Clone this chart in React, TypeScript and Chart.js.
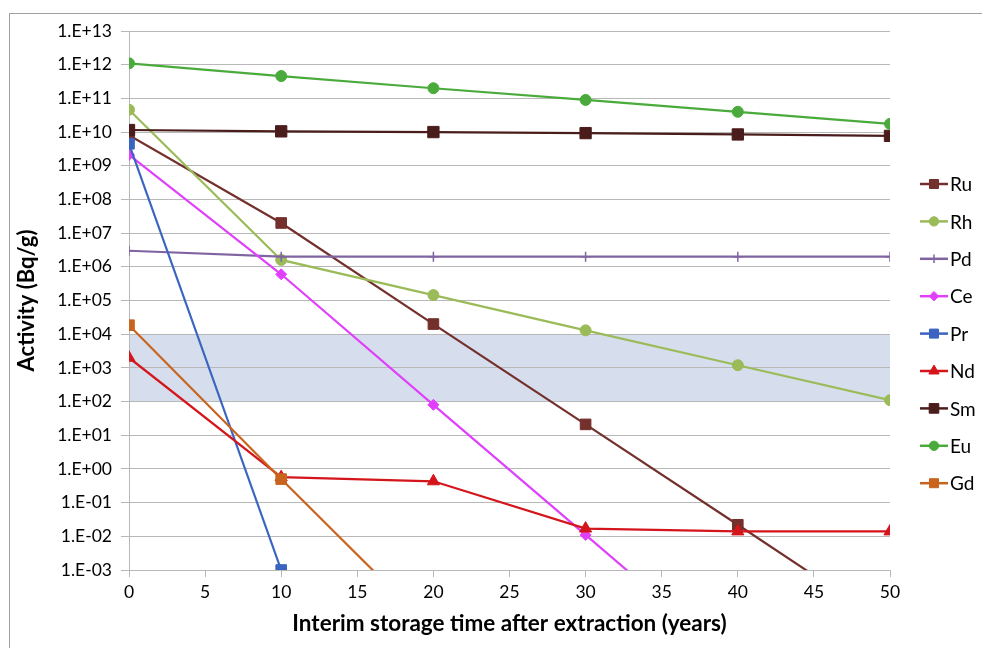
import React, { useEffect, useRef } from "react";
import { Chart, registerables } from "chart.js";
import { drawPoint } from "chart.js/helpers";

Chart.register(...registerables);

const years = [0, 10, 20, 30, 40, 50];
const seriesNames = ["Ru", "Rh", "Pd", "Ce", "Pr", "Nd", "Sm", "Eu", "Gd"];
const ru = [8e9, 2e7, 2e4, 2.1e1, 2.2e-2, 2.2e-5];
const rh = [4.6e10, 1.6e6, 1.45e5, 1.3e4, 1.2e3, 1.1e2];
const pd = [3e6, 2e6, 2e6, 2e6, 2e6, 2e6];
const ce = [2.1e9, 6e5, 8e1, 1.1e-2, 1.5e-6, null];
const pr = [4.5e9, 1e-3, null, null, null, null];
const nd = [2e3, 0.57, 0.43, 1.7e-2, 1.4e-2, 1.4e-2];
const sm = [1.15e10, 1.05e10, 1e10, 9.3e9, 8.5e9, 7.7e9];
const eu = [1.1e12, 4.6e11, 2e11, 9e10, 4e10, 1.75e10];
const gd = [1.85e4, 0.5, 1.6e-5, null, null, null];
const seriesValues = [ru, rh, pd, ce, pr, nd, sm, eu, gd];
const yTickExponents = [-3, -2, -1, 0, 1, 2, 3, 4, 5, 6, 7, 8, 9, 10, 11, 12, 13];
const yTickLabels = ["1.E-03", "1.E-02", "1.E-01", "1.E+00", "1.E+01", "1.E+02", "1.E+03", "1.E+04", "1.E+05", "1.E+06", "1.E+07", "1.E+08", "1.E+09", "1.E+10", "1.E+11", "1.E+12", "1.E+13"];
const bandRange = [1e2, 1e4];

const styles = [
  { color: "#73302c", style: "rect", radius: 7.5 },
  { color: "#9bbb59", style: "circle", radius: 5.5 },
  { color: "#8064a2", style: "cross", radius: 5 },
  { color: "#e040fb", style: "rectRot", radius: 5.5 },
  { color: "#3a64c0", style: "rect", radius: 7.5 },
  { color: "#d4151b", style: "triangle", radius: 7 },
  { color: "#4a1c1c", style: "rect", radius: 8 },
  { color: "#4aab3c", style: "circle", radius: 5.5 },
  { color: "#c8641e", style: "rect", radius: 7.5 },
];

const FONT = "Lato, 'Open Sans', sans-serif";

export default function App() {
  const ref = useRef<HTMLCanvasElement | null>(null);
  useEffect(() => {
    document.body.style.margin = "0";
    const canvas = ref.current!;
    const bandPlugin = {
      id: "band",
      beforeDraw(chart: any) {
        const { ctx, chartArea, scales } = chart;
        const y1 = scales.y.getPixelForValue(bandRange[1]);
        const y0 = scales.y.getPixelForValue(bandRange[0]);
        ctx.save();
        ctx.fillStyle = "rgb(214,222,237)";
        ctx.fillRect(chartArea.left, y1, chartArea.right - chartArea.left, y0 - y1);
        ctx.restore();
      },
    };
    const legendPlugin = {
      id: "customLegend",
      afterDraw(chart: any) {
        const { ctx } = chart;
        ctx.save();
        const x0 = 920, x1 = 948, yStart = 184, step = 37.4;
        seriesNames.forEach((name, i) => {
          const s = styles[i];
          const y = yStart + i * step;
          ctx.strokeStyle = s.color;
          ctx.lineWidth = 2.5;
          ctx.beginPath();
          ctx.moveTo(x0, y);
          ctx.lineTo(x1, y);
          ctx.stroke();
          ctx.fillStyle = s.color;
          ctx.lineWidth = s.style === "cross" ? 1.5 : 1;
          drawPoint(ctx, { pointStyle: s.style, radius: s.radius * 0.85, rotation: 0, borderWidth: ctx.lineWidth }, (x0 + x1) / 2, y);
          ctx.fillStyle = "#000";
          ctx.font = `19px ${FONT}`;
          ctx.textBaseline = "middle";
          ctx.textAlign = "left";
          ctx.fillText(name, x1 + 2, y + 1);
        });
        ctx.restore();
      },
    };
    const chart = new Chart(canvas, {
      type: "line",
      data: {
        datasets: seriesNames.map((name, i) => ({
          label: name,
          data: years.map((x, j) => ({ x, y: seriesValues[i][j] })).filter((p) => p.y !== null),
          borderColor: styles[i].color,
          backgroundColor: styles[i].color,
          borderWidth: 2.2,
          pointStyle: styles[i].style as any,
          pointRadius: styles[i].radius,
          pointBorderWidth: styles[i].style === "cross" ? 1.5 : 1,
          pointHoverRadius: styles[i].radius,
          tension: 0,
          fill: false,
          order: seriesNames.length - i,
        })),
      },
      options: {
        animation: false,
        responsive: false,
        maintainAspectRatio: false,
        layout: { padding: { left: 0, top: 31, right: 92, bottom: 0 } },
        plugins: { legend: { display: false }, tooltip: { enabled: false } },
        scales: {
          x: {
            type: "linear",
            min: 0,
            max: 50,
            ticks: { stepSize: 5, color: "#000", font: { family: FONT, size: 17.5 }, padding: 5, maxRotation: 0 },
            grid: { drawOnChartArea: false, tickLength: 7, color: "#b8b8b8" },
            border: { color: "#b8b8b8" },
            title: { display: true, text: "Interim storage time after extraction (years)", color: "#000", font: { family: FONT, size: 22.5, weight: "bold" }, padding: { top: 0, bottom: 11 } },
            afterFit(scale: any) { scale.height = 78; },
          },
          y: {
            type: "logarithmic",
            min: 1e-3,
            max: 1e13,
            afterBuildTicks(scale: any) {
              scale.ticks = yTickExponents.map((e) => ({ value: Math.pow(10, e) }));
            },
            ticks: {
              color: "#000",
              font: { family: FONT, size: 17.5 },
              padding: 9,
              callback: (v: any) => {
                const e = Math.round(Math.log10(Number(v)));
                const idx = yTickExponents.indexOf(e);
                return idx >= 0 ? yTickLabels[idx] : "";
              },
            },
            grid: { tickLength: 8, color: "#b8b8b8" },
            border: { color: "#b8b8b8" },
            title: { display: true, text: "Activity (Bq/g)", color: "#000", font: { family: FONT, size: 22, weight: "bold" }, padding: { top: 14, bottom: 0 } },
            afterFit(scale: any) { scale.width = 129; },
          },
        },
      },
      plugins: [bandPlugin, legendPlugin],
    });
    return () => chart.destroy();
  }, []);
  return (
    <div style={{ position: "relative", width: 982, height: 648, overflow: "hidden", background: "#fff" }}>
      <div style={{ position: "absolute", left: 9, top: 13, width: 1000, height: 700, borderTop: "1.5px solid #a0a0a0", borderLeft: "1.5px solid #a0a0a0" }} />
      <canvas ref={ref} width={982} height={648} style={{ position: "absolute", left: 0, top: 0, width: 982, height: 648 }} />
    </div>
  );
}
